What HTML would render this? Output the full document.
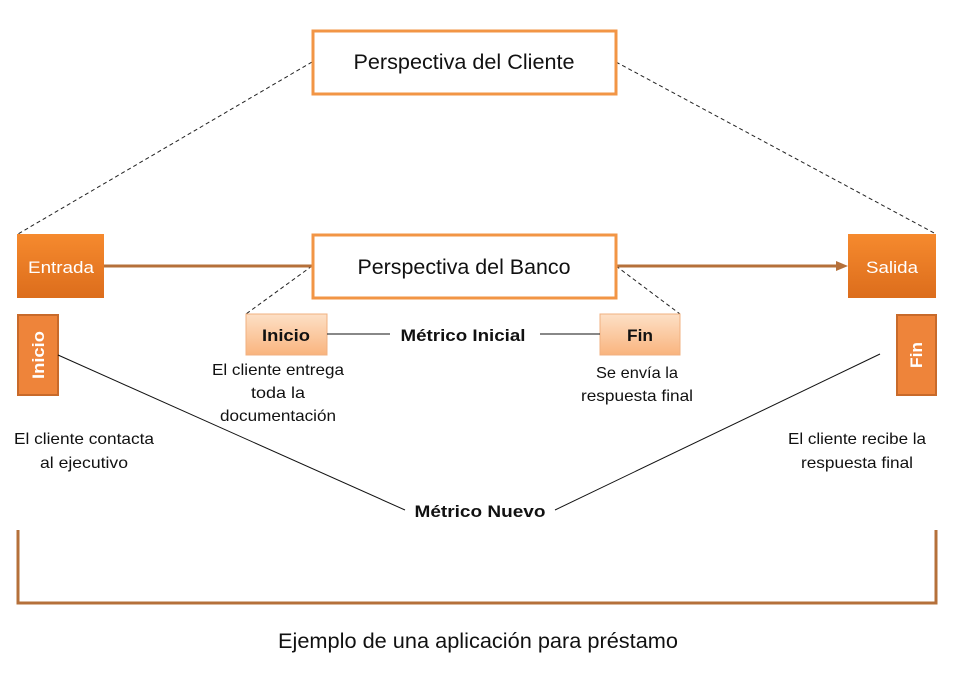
<!DOCTYPE html>
<html><head><meta charset="utf-8"><style>
html,body{margin:0;padding:0;background:#fff}
svg{display:block}
text{font-family:"Liberation Sans",sans-serif}
</style></head><body>
<svg width="960" height="674" viewBox="0 0 960 674" xmlns="http://www.w3.org/2000/svg">
<defs>
<linearGradient id="og" x1="0" y1="0" x2="0" y2="1"><stop offset="0" stop-color="#f68a2e"/><stop offset="1" stop-color="#dc6d1c"/></linearGradient>
<linearGradient id="lg" x1="0" y1="0" x2="0" y2="1"><stop offset="0" stop-color="#fde0c6"/><stop offset="1" stop-color="#f9b47e"/></linearGradient>
</defs>
<g stroke="#222" stroke-width="1" stroke-dasharray="4,3" fill="none">
<line x1="312" y1="62" x2="18" y2="234"/>
<line x1="616" y1="62" x2="936" y2="234"/>
<line x1="312" y1="266" x2="246" y2="314"/>
<line x1="616" y1="266" x2="680" y2="314"/>
</g>
<line x1="104" y1="266" x2="312" y2="266" stroke="#b5703a" stroke-width="3"/>
<line x1="616" y1="266" x2="838" y2="266" stroke="#b5703a" stroke-width="3"/>
<polygon points="848,266 836,261 836,271" fill="#b5703a"/>
<rect x="313" y="31" width="303" height="63" fill="#fff" stroke="#f29545" stroke-width="3"/>
<text x="464" y="69" font-size="21" text-anchor="middle" fill="#111" textLength="221" lengthAdjust="spacingAndGlyphs">Perspectiva del Cliente</text>
<rect x="313" y="235" width="303" height="63" fill="#fff" stroke="#f29545" stroke-width="3"/>
<text x="464" y="274" font-size="21" text-anchor="middle" fill="#111" textLength="213" lengthAdjust="spacingAndGlyphs">Perspectiva del Banco</text>
<rect x="17" y="234" width="87" height="64" fill="url(#og)"/>
<text x="61" y="273" font-size="17" text-anchor="middle" fill="#fff" textLength="66" lengthAdjust="spacingAndGlyphs">Entrada</text>
<rect x="848" y="234" width="88" height="64" fill="url(#og)"/>
<text x="892" y="273" font-size="17" text-anchor="middle" fill="#fff" textLength="52" lengthAdjust="spacingAndGlyphs">Salida</text>
<rect x="18" y="315" width="40" height="80" fill="#ee843a" stroke="#c86a2a" stroke-width="2"/>
<text x="0" y="0" font-size="17" font-weight="bold" fill="#fff" text-anchor="middle" transform="translate(44,355) rotate(-90)" textLength="48" lengthAdjust="spacingAndGlyphs">Inicio</text>
<rect x="897" y="315" width="39" height="80" fill="#ee843a" stroke="#c86a2a" stroke-width="2"/>
<text x="0" y="0" font-size="17" font-weight="bold" fill="#fff" text-anchor="middle" transform="translate(922,355) rotate(-90)" textLength="26" lengthAdjust="spacingAndGlyphs">Fin</text>
<rect x="246" y="314" width="81" height="41" fill="url(#lg)" stroke="#f0b080" stroke-width="1"/>
<text x="286" y="341" font-size="17" font-weight="bold" text-anchor="middle" fill="#111" textLength="48" lengthAdjust="spacingAndGlyphs">Inicio</text>
<rect x="600" y="314" width="80" height="41" fill="url(#lg)" stroke="#f0b080" stroke-width="1"/>
<text x="640" y="341" font-size="17" font-weight="bold" text-anchor="middle" fill="#111" textLength="26" lengthAdjust="spacingAndGlyphs">Fin</text>
<g stroke="#111" stroke-width="1">
<line x1="327" y1="334" x2="390" y2="334"/>
<line x1="540" y1="334" x2="600" y2="334"/>
<line x1="58" y1="355" x2="405" y2="510"/>
<line x1="880" y1="354" x2="555" y2="510"/>
</g>
<text x="463" y="341" font-size="17" font-weight="bold" text-anchor="middle" fill="#111" textLength="125" lengthAdjust="spacingAndGlyphs">Métrico Inicial</text>
<text x="480" y="517" font-size="17" font-weight="bold" text-anchor="middle" fill="#111" textLength="131" lengthAdjust="spacingAndGlyphs">Métrico Nuevo</text>
<g font-size="16" fill="#111" text-anchor="middle" lengthAdjust="spacingAndGlyphs">
<text x="278" y="375" textLength="132" lengthAdjust="spacingAndGlyphs">El cliente entrega</text>
<text x="278" y="398" textLength="54" lengthAdjust="spacingAndGlyphs">toda la</text>
<text x="278" y="421" textLength="116" lengthAdjust="spacingAndGlyphs">documentación</text>
<text x="637" y="378" textLength="82" lengthAdjust="spacingAndGlyphs">Se envía la</text>
<text x="637" y="401" textLength="112" lengthAdjust="spacingAndGlyphs">respuesta final</text>
<text x="84" y="444" textLength="140" lengthAdjust="spacingAndGlyphs">El cliente contacta</text>
<text x="84" y="468" textLength="88" lengthAdjust="spacingAndGlyphs">al ejecutivo</text>
<text x="857" y="444" textLength="138" lengthAdjust="spacingAndGlyphs">El cliente recibe la</text>
<text x="857" y="468" textLength="112" lengthAdjust="spacingAndGlyphs">respuesta final</text>
</g>
<path d="M18,530 V603 H936 V530" fill="none" stroke="#b5703a" stroke-width="3"/>
<text x="478" y="648" font-size="21" text-anchor="middle" fill="#111" textLength="400" lengthAdjust="spacingAndGlyphs">Ejemplo de una aplicación para préstamo</text>
</svg>
</body></html>
